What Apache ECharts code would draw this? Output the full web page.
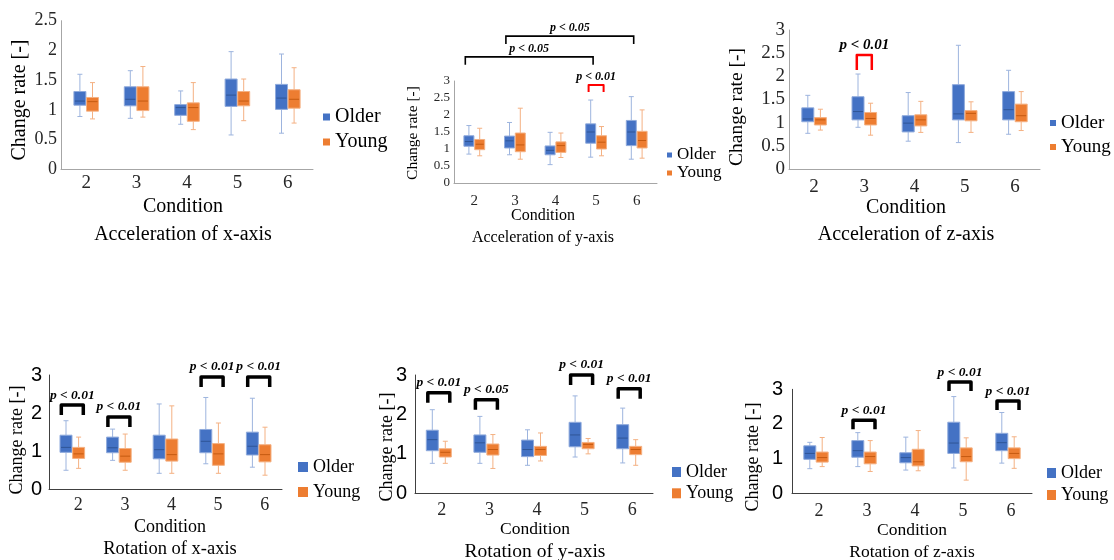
<!DOCTYPE html>
<html>
<head>
<meta charset="utf-8">
<script src="https://cdn.jsdelivr.net/npm/echarts@6/dist/echarts.min.js"></script>
<style>html,body{margin:0;padding:0;background:#fff}#c{width:1114px;height:560px}</style>
</head>
<body>
<div id="c"></div>
<script>
// ---------- data ----------
const categories = ['2', '3', '4', '5', '6'];
// each row: [min, Q1, median, Q3, max]
const accXOlder = [[0.89,1.08,1.15,1.31,1.60],[0.86,1.07,1.18,1.39,1.66],[0.76,0.91,1.04,1.09,1.32],[0.58,1.06,1.25,1.52,1.98],[0.61,1.01,1.20,1.43,1.94]];
const accXYoung = [[0.85,0.98,1.14,1.21,1.46],[0.88,0.99,1.15,1.39,1.73],[0.67,0.81,1.04,1.12,1.46],[0.82,1.07,1.15,1.31,1.52],[0.78,1.03,1.18,1.34,1.71]];
const accYOlder = [[0.85,1.08,1.22,1.39,1.69],[0.83,1.03,1.24,1.38,1.78],[0.54,0.83,0.96,1.09,1.49],[0.76,1.17,1.50,1.74,2.44],[0.70,1.10,1.50,1.84,2.54]];
const accYYoung = [[0.80,0.98,1.14,1.28,1.61],[0.70,0.92,1.12,1.47,2.20],[0.75,0.90,1.10,1.21,1.47],[0.80,1.00,1.20,1.39,1.66],[0.73,1.03,1.25,1.52,2.15]];
const accZOlder = [[0.77,1.02,1.08,1.32,1.59],[0.90,1.06,1.24,1.56,2.05],[0.60,0.80,0.99,1.15,1.65],[0.57,1.06,1.19,1.82,2.67],[0.75,1.06,1.28,1.67,2.13]];
const accZYoung = [[0.84,0.95,1.06,1.11,1.29],[0.73,0.95,1.09,1.22,1.42],[0.79,0.93,1.06,1.17,1.46],[0.79,1.04,1.20,1.26,1.45],[0.83,1.02,1.15,1.40,1.67]];
const rotXOlder = [[0.50,0.97,1.10,1.42,1.80],[0.76,0.96,1.09,1.37,1.58],[0.42,0.80,1.04,1.42,2.24],[0.67,0.96,1.26,1.57,2.41],[0.58,0.90,1.13,1.50,2.39]];
const rotXYoung = [[0.55,0.81,0.93,1.10,1.37],[0.50,0.71,0.87,1.07,1.45],[0.42,0.74,0.91,1.32,2.19],[0.42,0.63,0.93,1.20,1.74],[0.37,0.72,0.91,1.17,1.63]];
const rotYOlder = [[0.76,1.08,1.36,1.60,2.12],[0.76,1.04,1.28,1.48,1.95],[0.71,0.93,1.11,1.35,1.61],[0.92,1.18,1.48,1.80,2.47],[0.77,1.13,1.40,1.74,2.16]];
const rotYYoung = [[0.76,0.92,1.04,1.13,1.32],[0.63,0.97,1.11,1.25,1.49],[0.82,0.96,1.11,1.19,1.53],[1.00,1.13,1.24,1.29,1.39],[0.71,0.98,1.11,1.19,1.36]];
const rotZOlder = [[0.71,0.98,1.15,1.37,1.47],[0.77,1.04,1.23,1.52,1.75],[0.67,0.88,1.03,1.17,1.62],[0.73,1.15,1.45,2.05,2.79],[0.87,1.23,1.46,1.73,2.33]];
const rotZYoung = [[0.77,0.90,1.03,1.19,1.61],[0.63,0.85,1.06,1.19,1.52],[0.65,0.79,0.91,1.27,1.81],[0.38,0.91,1.06,1.31,1.60],[0.72,1.00,1.15,1.31,1.63]];

// significance brackets: [fromCategoryIndex, toCategoryIndex, level (value units), label]
const accYGroupBrackets = [[0, 3, 3.71, 'p < 0.05'], [1, 4, 4.32, 'p < 0.05']];
const accYPairBrackets = [[3, 3, 2.88, 'p < 0.01']];
const accZPairBrackets = [[1, 1, 2.46, 'p < 0.01']];
const rotXBrackets = [[0, 0, 2.21, 'p < 0.01'], [1, 1, 1.90, 'p < 0.01'], [3, 3, 2.95, 'p < 0.01'], [4, 4, 2.95, 'p < 0.01']];
const rotYBrackets = [[0, 0, 2.55, 'p < 0.01'], [1, 1, 2.37, 'p < 0.05'], [3, 3, 3.00, 'p < 0.01'], [4, 4, 2.65, 'p < 0.01']];
const rotZBrackets = [[1, 1, 2.11, 'p < 0.01'], [3, 3, 3.21, 'p < 0.01'], [4, 4, 2.66, 'p < 0.01']];

const seriesNames = ['Older', 'Young'];
const panelTitles = ['Acceleration of x-axis', 'Acceleration of y-axis', 'Acceleration of z-axis', 'Rotation of x-axis', 'Rotation of y-axis', 'Rotation of z-axis'];
const xName = 'Condition';
const yName = 'Change rate [-]';

// ---------- styles ----------
const SERIF = 'Liberation Serif';
const SANS = 'Liberation Sans';
const BLUE = {fill: '#4472C4', edge: '#8FAADC', whisk: '#9DB4DE', med: '#2F5597'};
const ORANGE = {fill: '#ED7D31', edge: '#F4B183', whisk: '#F4B183', med: '#C55A11'};

const panels = [
  {older: accXOlder, young: accXYoung, grid: {left: 61, top: 20.7, width: 252, height: 148.8}, yMax: 2.5, yInt: 0.5,
   axisColor: '#a6a6a6', yFont: {fontFamily: SERIF, fontSize: 18, color: '#262626'}, yMargin: 4,
   xFont: {fontFamily: SERIF, fontSize: 19, color: '#262626'}, xMargin: 4, xPad: 0, bw: 12, off: 6.3,
   legend: {left: 323, top: 107, iw: 7, ih: 7, fs: 20, gap: 5},
   title: {x: 183, y: 235, fs: 20}, cond: {x: 183, y: 207, fs: 20}, yname: {x: 20, y: 100, fs: 20}},
  {older: accYOlder, young: accYYoung, grid: {left: 454, top: 81, width: 203, height: 102}, yMax: 3, yInt: 0.5,
   axisColor: '#a6a6a6', yFont: {fontFamily: SERIF, fontSize: 13, color: '#262626'}, yMargin: 4,
   xFont: {fontFamily: SERIF, fontSize: 15, color: '#262626'}, xMargin: 11, xPad: 0, bw: 10, off: 5.4,
   legend: {left: 667, top: 146.5, iw: 5, ih: 5, fs: 17, gap: 1},
   title: {x: 543, y: 238, fs: 16}, cond: {x: 543, y: 216, fs: 16}, yname: {x: 413, y: 133, fs: 15.5}},
  {older: accZOlder, young: accZYoung, grid: {left: 789, top: 30, width: 251, height: 139}, yMax: 3, yInt: 0.5,
   axisColor: '#a6a6a6', yFont: {fontFamily: SERIF, fontSize: 19, color: '#262626'}, yMargin: 4,
   xFont: {fontFamily: SERIF, fontSize: 19, color: '#262626'}, xMargin: 9, xPad: 0, bw: 12, off: 6.3,
   legend: {left: 1050, top: 113.5, iw: 6, ih: 6, fs: 19, gap: 5},
   title: {x: 906, y: 235, fs: 20}, cond: {x: 906, y: 208, fs: 20}, yname: {x: 737, y: 107, fs: 19.5}},
  {older: rotXOlder, young: rotXYoung, grid: {left: 49, top: 375, width: 233, height: 114.3}, yMax: 3, yInt: 1,
   axisColor: '#404040', yFont: {fontFamily: SANS, fontSize: 20, color: '#000'}, yMargin: 7,
   xFont: {fontFamily: SERIF, fontSize: 18, color: '#262626'}, xMargin: 7, xPad: 12, bw: 12, off: 6.3,
   legend: {left: 298, top: 458, iw: 10, ih: 10, fs: 18, gap: 7},
   title: {x: 170, y: 549, fs: 18.5}, cond: {x: 170, y: 527, fs: 18}, yname: {x: 17, y: 440, fs: 18}},
  {older: rotYOlder, young: rotYYoung, grid: {left: 415, top: 375, width: 238, height: 118.3}, yMax: 3, yInt: 1,
   axisColor: '#404040', yFont: {fontFamily: SANS, fontSize: 20, color: '#000'}, yMargin: 8,
   xFont: {fontFamily: SERIF, fontSize: 18, color: '#262626'}, xMargin: 8, xPad: 6, bw: 12, off: 6.5,
   legend: {left: 672, top: 463, iw: 9, ih: 10, fs: 18, gap: 3.3},
   title: {x: 535, y: 552, fs: 19.5}, cond: {x: 535, y: 529, fs: 17.5}, yname: {x: 387, y: 447, fs: 18}},
  {older: rotZOlder, young: rotZYoung, grid: {left: 792, top: 389.3, width: 240, height: 104}, yMax: 3, yInt: 1,
   axisColor: '#404040', yFont: {fontFamily: SANS, fontSize: 20, color: '#000'}, yMargin: 9,
   xFont: {fontFamily: SERIF, fontSize: 18, color: '#262626'}, xMargin: 9, xPad: 6, bw: 12, off: 6.2,
   legend: {left: 1047, top: 464, iw: 9, ih: 10, fs: 18, gap: 4},
   title: {x: 912, y: 552, fs: 17.5}, cond: {x: 912, y: 530, fs: 17.5}, yname: {x: 753, y: 457, fs: 18}}
];

const bracketSets = [
  {panel: 1, list: accYGroupBrackets, color: '#000', lw: 1.6, drop: 8, half: 0, leftOff: -9, rightOff: -3, join: 'miter', font: 'italic bold 12px ' + SERIF, gap: 8},
  {panel: 1, list: accYPairBrackets, color: '#FF0000', lw: 2, drop: 7, half: 7.5, join: 'round', font: 'italic bold 12px ' + SERIF, gap: 8},
  {panel: 2, list: accZPairBrackets, color: '#FF0000', lw: 2.5, drop: 15, half: 7.5, join: 'round', font: 'italic bold 15px ' + SERIF, gap: 10},
  {panel: 3, list: rotXBrackets, color: '#000', lw: 3.5, drop: 10, half: 11, join: 'round', font: 'italic bold 13.5px ' + SERIF, gap: 10},
  {panel: 4, list: rotYBrackets, color: '#000', lw: 3.5, drop: 10, half: 11, join: 'round', font: 'italic bold 13.5px ' + SERIF, gap: 10},
  {panel: 5, list: rotZBrackets, color: '#000', lw: 3.5, drop: 9, half: 11, join: 'round', font: 'italic bold 13.5px ' + SERIF, gap: 10}
];

// ---------- render helpers ----------
function boxRenderer(offset, bw, c) {
  return function (params, api) {
    const ci = api.value(0);
    const x = api.coord([ci, 0])[0] + offset;
    const py = i => api.coord([ci, api.value(i)])[1];
    const yMin = py(1), yQ1 = py(2), yMed = py(3), yQ3 = py(4), yMax = py(5);
    const h = bw / 2, cap = 2.5;
    const ls = {stroke: c.whisk, lineWidth: 1};
    return {type: 'group', children: [
      {type: 'line', shape: {x1: x, y1: yQ3, x2: x, y2: yMax}, style: ls},
      {type: 'line', shape: {x1: x, y1: yQ1, x2: x, y2: yMin}, style: ls},
      {type: 'line', shape: {x1: x - cap, y1: yMax, x2: x + cap, y2: yMax}, style: ls},
      {type: 'line', shape: {x1: x - cap, y1: yMin, x2: x + cap, y2: yMin}, style: ls},
      {type: 'rect', shape: {x: x - h, y: yQ3, width: bw, height: yQ1 - yQ3}, style: {fill: c.fill, stroke: c.edge, lineWidth: 1}},
      {type: 'line', shape: {x1: x - h + 1, y1: yMed, x2: x + h - 1, y2: yMed}, style: {stroke: c.med, lineWidth: 1}}
    ]};
  };
}

function bracketRenderer(set) {
  return function (params, api) {
    const b = set.list[params.dataIndex];
    const a = api.value(0), z = api.value(1);
    const xa = api.coord([a, 0])[0], xz = api.coord([z, 0])[0];
    let xl, xr;
    if (a === z) { xl = xa - set.half; xr = xa + set.half; }
    else { xl = xa + set.leftOff; xr = xz + set.rightOff; }
    const yt = api.coord([a, api.value(2)])[1];
    return {type: 'group', children: [
      {type: 'polyline', shape: {points: [[xl, yt + set.drop], [xl, yt], [xr, yt], [xr, yt + set.drop]]},
       style: {stroke: set.color, lineWidth: set.lw, fill: null, lineJoin: set.join, lineCap: 'butt'}},
      {type: 'text', x: (xl + xr) / 2, y: yt - set.gap,
       style: {text: b[3], font: set.font, fill: '#000', align: 'center', verticalAlign: 'middle', textAlign: 'center', textVerticalAlign: 'middle'}}
    ]};
  };
}

// ---------- option ----------
const grid = [], xAxis = [], yAxis = [], series = [], legend = [], graphic = [];
panels.forEach((p, i) => {
  grid.push(Object.assign({containLabel: false, outerBoundsMode: 'none'}, p.grid));
  xAxis.push({type: 'category', gridIndex: i, data: categories, boundaryGap: true,
    axisLine: {show: true, lineStyle: {color: p.axisColor, width: 1}}, axisTick: {show: false},
    axisLabel: Object.assign({margin: p.xMargin, padding: [0, 0, 0, p.xPad]}, p.xFont), splitLine: {show: false}});
  yAxis.push({type: 'value', gridIndex: i, min: 0, max: p.yMax, interval: p.yInt,
    axisLine: {show: true, lineStyle: {color: p.axisColor, width: 1}}, axisTick: {show: false},
    axisLabel: Object.assign({margin: p.yMargin}, p.yFont), splitLine: {show: false}});
  [[p.older, BLUE, -p.off, seriesNames[0]], [p.young, ORANGE, p.off, seriesNames[1]]].forEach(([arr, col, off, name]) => {
    series.push({type: 'custom', name: name, xAxisIndex: i, yAxisIndex: i,
      itemStyle: {color: col.fill},
      encode: {x: 0, y: [1, 2, 3, 4, 5]},
      data: arr.map((d, k) => [k].concat(d)),
      renderItem: boxRenderer(off, p.bw, col), silent: true});
  });
  legend.push({orient: 'vertical', left: p.legend.left, top: p.legend.top, padding: 0, icon: 'rect',
    itemWidth: p.legend.iw, itemHeight: p.legend.ih, itemGap: p.legend.gap, selectedMode: false,
    data: seriesNames, textStyle: {fontFamily: SERIF, fontSize: p.legend.fs, lineHeight: p.legend.fs, color: '#000', padding: [0, 0, 0, 0]}});
  graphic.push({type: 'text', x: p.title.x, y: p.title.y, silent: true,
    style: {text: panelTitles[i], font: p.title.fs + 'px ' + SERIF, fill: '#000', textAlign: 'center', textVerticalAlign: 'middle', align: 'center', verticalAlign: 'middle'}});
  graphic.push({type: 'text', x: p.cond.x, y: p.cond.y, silent: true,
    style: {text: xName, font: p.cond.fs + 'px ' + SERIF, fill: '#000', textAlign: 'center', textVerticalAlign: 'middle', align: 'center', verticalAlign: 'middle'}});
  graphic.push({type: 'text', x: p.yname.x, y: p.yname.y, rotation: Math.PI / 2, silent: true,
    style: {text: yName, font: p.yname.fs + 'px ' + SERIF, fill: '#000', textAlign: 'center', textVerticalAlign: 'middle', align: 'center', verticalAlign: 'middle'}});
});
bracketSets.forEach(set => {
  series.push({type: 'custom', name: 'sig', xAxisIndex: set.panel, yAxisIndex: set.panel, clip: false, silent: true,
    encode: {x: [0, 1], y: 2},
    data: set.list.map(b => [b[0], b[1], b[2]]),
    renderItem: bracketRenderer(set)});
});

const chart = echarts.init(document.getElementById('c'), null, {renderer: 'canvas', width: 1114, height: 560});
chart.setOption({backgroundColor: '#fff', animation: false, grid, xAxis, yAxis, series, legend, graphic});
</script>
</body>
</html>
